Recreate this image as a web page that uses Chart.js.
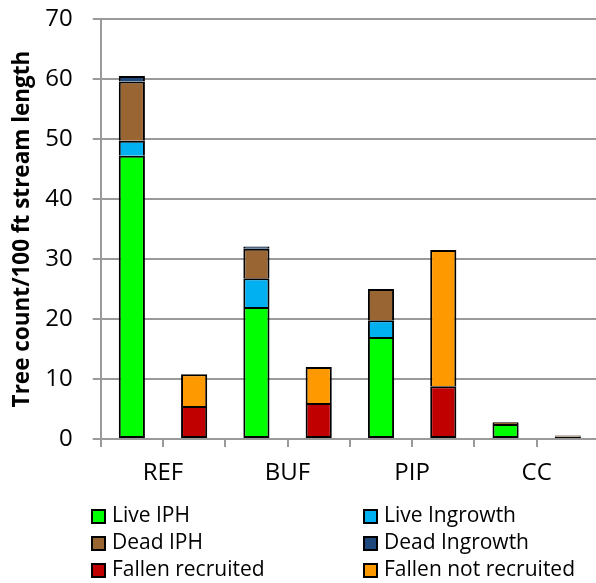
<!DOCTYPE html>
<html>
<head>
<meta charset="utf-8">
<script src="https://cdn.jsdelivr.net/npm/chart.js@4.4.1/dist/chart.umd.min.js"></script>
<style>
  html, body { margin: 0; padding: 0; overflow: hidden; background: #fff; }
  #wrap { width: 600px; height: 583px; position: relative; }
</style>
</head>
<body>
<div id="wrap"><canvas id="c" width="600" height="583"></canvas></div>
<script>
// Sites shown along the bottom; each site has a standing-tree bar and a fallen-tree bar
const sites = ['REF', 'BUF', 'PIP', 'CC'];
const barSlots = ['REF standing', 'REF fallen', 'BUF standing', 'BUF fallen',
                  'PIP standing', 'PIP fallen', 'CC standing', 'CC fallen'];

// Tree counts per 100 ft of stream length
const liveIPH            = [47.2, null, 22.0, null, 17.0, null, 2.5, null];
const liveIngrowth       = [2.5,  null, 4.8,  null, 2.8,  null, 0,   null];
const deadIPH            = [9.9,  null, 4.9,  null, 5.2,  null, 0.3, null];
const deadIngrowth       = [0.9,  null, 0.4,  null, 0,    null, 0,   null];
const fallenRecruited    = [null, 5.5,  null, 6.0,  null, 8.8,  null, 0.4];
const fallenNotRecruited = [null, 5.3,  null, 6.0,  null, 22.7, null, 0.2];

const yTicks = [0, 10, 20, 30, 40, 50, 60, 70];

const FONT = "'Open Sans', 'DejaVu Sans', sans-serif";
const AXIS_GRAY = '#9a9a9a';

// base: segment sits on the axis, so it keeps its bottom edge outline
const seriesDefs = [
  { label: 'Live IPH',             data: liveIPH,            color: '#00ff00', base: true },
  { label: 'Live Ingrowth',        data: liveIngrowth,       color: '#00b0f0', base: false },
  { label: 'Dead IPH',             data: deadIPH,            color: '#996633', base: false },
  { label: 'Dead Ingrowth',        data: deadIngrowth,       color: '#1f497d', base: false },
  { label: 'Fallen recruited',     data: fallenRecruited,    color: '#c00000', base: true },
  { label: 'Fallen not recruited', data: fallenNotRecruited, color: '#ff9900', base: false }
];

// Two-column legend drawn below the plot
const gridLegend = {
  id: 'gridLegend',
  afterDraw(chart) {
    const ctx = chart.ctx;
    const colX = [91, 363];
    const rowY = [516.5, 543.5, 570.5];
    const box = 15;
    ctx.save();
    ctx.font = '21px ' + FONT;
    ctx.textBaseline = 'middle';
    ctx.textAlign = 'left';
    chart.data.datasets.forEach((ds, i) => {
      const x = colX[i % 2];
      const y = rowY[Math.floor(i / 2)];
      ctx.fillStyle = ds.backgroundColor;
      ctx.fillRect(x, y - box / 2, box, box);
      ctx.lineWidth = 2;
      ctx.strokeStyle = '#000';
      ctx.strokeRect(x + 1, y - box / 2 + 1, box - 2, box - 2);
      ctx.fillStyle = '#000';
      ctx.fillText(ds.label, x + box + 6, y);
    });
    ctx.restore();
  }
};

new Chart(document.getElementById('c'), {
  type: 'bar',
  data: {
    labels: barSlots,
    datasets: seriesDefs.map(s => ({
      label: s.label,
      data: s.data,
      backgroundColor: s.color,
      borderColor: '#000',
      borderWidth: { top: 2, left: 2, right: 2, bottom: s.base ? 2 : 0 },
      borderSkipped: false,
      inflateAmount: 0,
      categoryPercentage: 1,
      barPercentage: 0.42
    }))
  },
  options: {
    responsive: false,
    animation: false,
    devicePixelRatio: 1,
    layout: { padding: { top: 19, right: 1, bottom: 96, left: 0 } },
    plugins: {
      legend: { display: false },
      tooltip: { enabled: false }
    },
    scales: {
      x: {
        stacked: true,
        offset: true,
        ticks: { display: false },
        grid: {
          offset: true,
          drawOnChartArea: false,
          drawTicks: true,
          tickLength: 8,
          color: AXIS_GRAY,
          lineWidth: 2
        },
        border: { color: AXIS_GRAY, width: 2 },
        afterFit(scale) { scale.height = 8; }
      },
      x2: {
        type: 'category',
        labels: sites,
        position: 'bottom',
        offset: true,
        grid: { display: false, drawTicks: false, tickLength: 0 },
        border: { display: false },
        ticks: {
          color: '#000',
          font: { family: FONT, size: 24 },
          padding: 12,
          autoSkip: false,
          maxRotation: 0
        },
        afterFit(scale) { scale.height = 40; }
      },
      y: {
        stacked: true,
        min: 0,
        max: 70,
        afterBuildTicks(scale) { scale.ticks = yTicks.map(v => ({ value: v })); },
        ticks: {
          color: '#000',
          font: { family: FONT, size: 24 },
          padding: 20
        },
        grid: {
          color: AXIS_GRAY,
          lineWidth: 2,
          drawTicks: true,
          tickLength: 8
        },
        border: { color: AXIS_GRAY, width: 2 },
        title: {
          display: true,
          text: 'Tree count/100 ft stream length',
          color: '#000',
          font: { family: FONT, size: 22.5, weight: 'bold' },
          padding: { top: 9, bottom: 0 }
        },
        afterFit(scale) {
          scale.width = 100.7;
          scale.paddingTop = 0;
          scale.paddingBottom = 0;
        }
      }
    }
  },
  plugins: [gridLegend]
});
</script>
</body>
</html>
